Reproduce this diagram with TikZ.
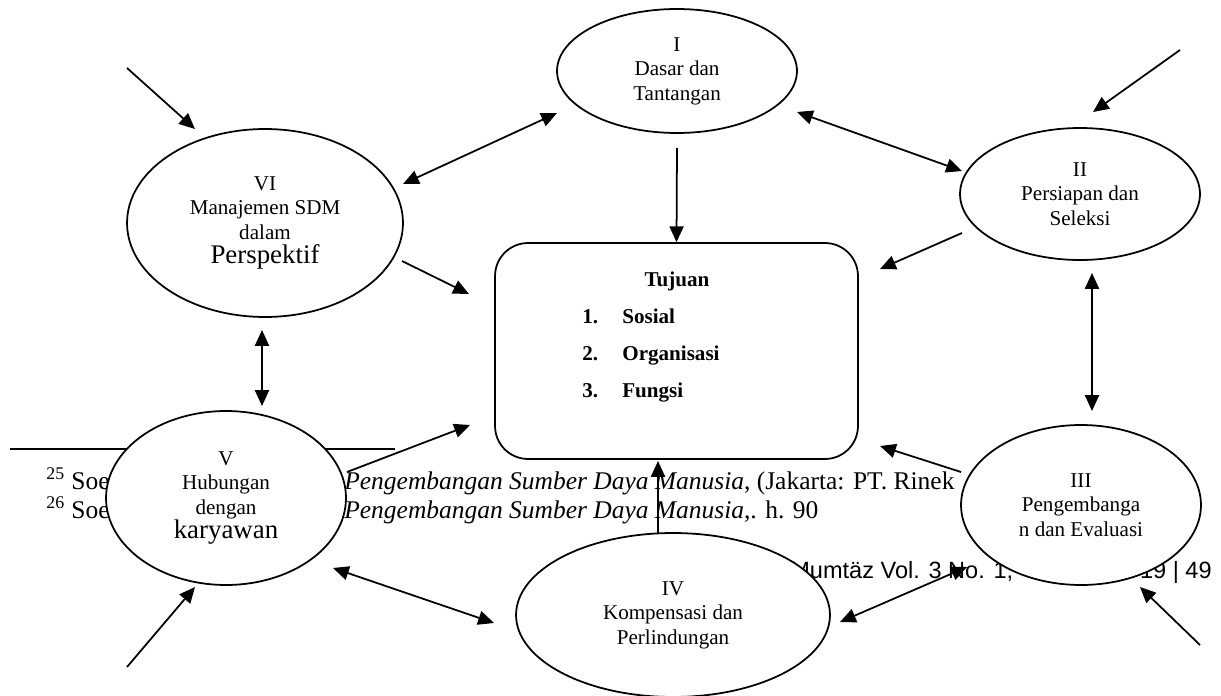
\documentclass[tikz,border=0pt]{standalone}
\usepackage{fontspec}
\setmainfont{Liberation Serif}
\newfontfamily\headerfont{Liberation Sans}
\usetikzlibrary{shapes.geometric,arrows.meta,calc}

\tikzset{
  oval/.style={ellipse, draw, fill=white, line width=1pt, inner sep=0pt,
    align=center, font=\fontsize{12}{13.9}\selectfont},
  goal/.style={draw, fill=white, rounded corners=0.66cm, line width=1pt,
    minimum width=7.26cm, minimum height=4.32cm},
  goalitem/.style={anchor=base west, inner sep=0pt, font=\fontsize{12}{14}\selectfont\bfseries},
  note/.style={anchor=base west, inner sep=0pt, font=\fontsize{14.5}{16}\selectfont},
  header/.style={inner sep=0pt, font=\headerfont\fontsize{13.4}{15}\selectfont},
  oneway/.style={line width=1pt, -{Triangle[length=9pt,width=8pt]}},
  twoway/.style={line width=1pt, {Triangle[length=9pt,width=8pt]}-{Triangle[length=9pt,width=8pt]}},
}
\newcommand{\bigword}[1]{{\fontsize{15.3}{17}\selectfont #1}}

\begin{document}
\begin{tikzpicture}[x=0.02cm, y=-0.02cm]
  \useasboundingbox (0,0) rectangle (1221,696);
  % page text behind the chart
  \draw[line width=1pt] (10,449) -- (395,449);
  \node[note] (fnA) at (46,489) {\textsuperscript{25} Soe};
  \node[note] (fnB) at (46,518) {\textsuperscript{26} Soe};
  \node[note] (fnAtitle) at (344,489) {\textit{Pengembangan Sumber Daya Manusia}, (Jakarta: PT. Rinek};
  \node[note] (fnBtitle) at (344,518) {\textit{Pengembangan Sumber Daya Manusia},. h. 90};
  \node[header, anchor=base west] (hdrA) at (790,578) {Mumtäz Vol. 3 No. 1,};
  \node[header, anchor=base east] (hdrB) at (1212,578) {19 | 49};

  % goals in the middle
  \node[goal] (goal) at (676.5,351) {};
  \node[goalitem, anchor=base] (tujuan) at (677,286) {Tujuan};
  \node[goalitem] (numA) at (582,323) {1.};
  \node[goalitem] (itemA) at (622,323) {Sosial};
  \node[goalitem] (numB) at (582,360) {2.};
  \node[goalitem] (itemB) at (622,360) {Organisasi};
  \node[goalitem] (numC) at (582,397) {3.};
  \node[goalitem] (itemC) at (622,397) {Fungsi};

  % the six parts
  \node[oval, minimum width=4.8cm, minimum height=2.48cm] (i) at (677,71) {I\\Dasar dan\\Tantangan};
  \node[oval, minimum width=4.8cm, minimum height=2.64cm] (ii) at (1080,194) {II\\Persiapan dan\\Seleksi};
  \node[oval, minimum width=4.8cm, minimum height=3.2cm] (iii) at (1081,505) {III\\Pengembanga\\n dan Evaluasi};
  \node[oval, minimum width=6.28cm, minimum height=3.28cm] (iv) at (673,615) {IV\\Kompensasi dan\\Perlindungan};
  \node[oval, minimum width=4.8cm, minimum height=3.48cm] (v) at (226,498) {V\\Hubungan\\dengan\\\bigword{karyawan}};
  \node[oval, minimum width=5.52cm, minimum height=3.76cm] (vi) at (265,223) {VI\\Manajemen SDM\\dalam\\\bigword{Perspektif}};

  % loose ends of the outer arrows
  \coordinate (inTL) at (127,68);
  \coordinate (inTR) at (1180,50);
  \coordinate (inBL) at (127,667);
  \coordinate (inBR) at (1200,645);

  % arrows
  \draw[oneway] (inTL) -- ($(vi)+(-70,-94)$);
  \draw[twoway] ($(vi)+(138,-39)$) -- ($(i)+(-120,42)$);
  \draw[twoway] ($(i)+(120,41)$) -- ($(ii)+(-118,-23)$);
  \draw[oneway] (inTR) -- ($(ii)+(13,-82)$);
  \draw[oneway] ($(i)+(0,77)$) -- (goal.north);
  \draw[oneway] ($(vi)+(137,38)$) -- ($(goal)+(-207.5,-57)$);
  \draw[oneway] ($(ii)+(-118,39)$) -- ($(goal)+(203.5,-82)$);
  \draw[twoway] ($(vi)+(-3,107)$) -- ($(v)+(36,-92)$);
  \draw[twoway] ($(ii)+(12,79)$) -- ($(iii)+(11,-94)$);
  \draw[oneway] ($(v)+(121,-26)$) -- ($(goal)+(-206.5,74)$);
  \draw[oneway] ($(iii)+(-120,-33)$) -- ($(goal)+(203.5,95)$);
  \draw[oneway] ($(iv)+(-15,-82)$) -- ($(goal)+(-18.5,110)$);
  \draw[twoway] ($(v)+(107,70)$) -- ($(iv)+(-179,8)$);
  \draw[twoway] ($(iv)+(167,7)$) -- ($(iii)+(-114,62)$);
  \draw[oneway] (inBL) -- ($(v)+(-31,89)$);
  \draw[oneway] (inBR) -- ($(iii)+(59,82)$);
\end{tikzpicture}
\end{document}
